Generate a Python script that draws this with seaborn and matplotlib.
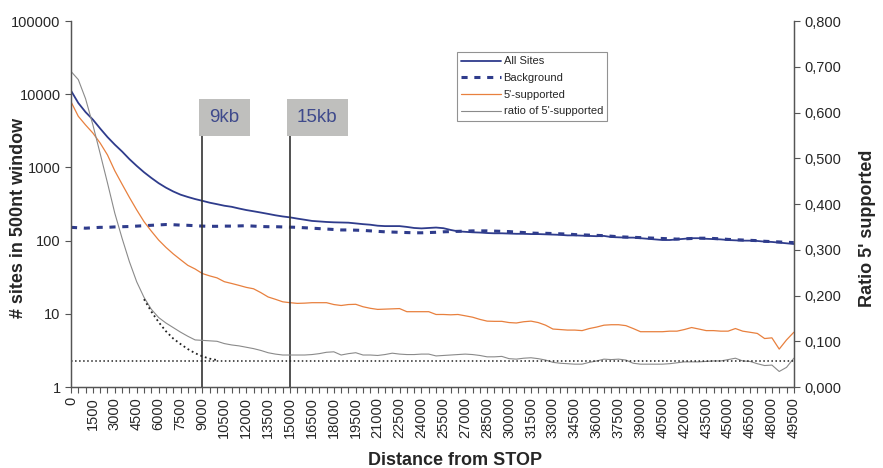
import numpy as np
import pandas as pd
import seaborn as sns
import matplotlib.pyplot as plt
from matplotlib.ticker import FuncFormatter, NullLocator

# distance from STOP, one window every 500 nt
distance = np.arange(0, 50000, 500)

all_sites = [
    11200, 7600, 5700, 4500, 3400, 2600, 2050, 1650, 1300, 1050,
    860, 720, 610, 530, 470, 425, 395, 370, 350, 330,
    315, 300, 290, 275, 262, 252, 242, 232, 222, 214,
    208, 200, 193, 186, 183, 180, 178, 177, 176, 172,
    168, 165, 160, 158, 158, 158, 154, 149, 147, 149,
    151, 148, 140, 134, 132, 130, 129, 127, 126, 126,
    125, 124, 124, 123, 123, 122, 121, 120, 118, 118,
    117, 116, 115, 116, 112, 111, 110, 110, 108, 106,
    104, 102, 102, 104, 106, 108, 108, 106, 105, 104,
    102, 101, 100, 100, 99, 97, 96, 94, 92, 90,
]

background = [
    152, 150, 148, 150, 152, 152, 154, 155, 156, 158,
    160, 162, 164, 166, 165, 163, 162, 160, 158, 157,
    157, 158, 158, 159, 160, 158, 156, 155, 155, 154,
    153, 152, 150, 148, 146, 144, 142, 140, 140, 139,
    138, 136, 134, 132, 131, 130, 129, 128, 128, 129,
    130, 132, 133, 134, 135, 136, 136, 136, 135, 134,
    133, 131, 129, 127, 126, 126, 125, 124, 123, 121,
    120, 119, 118, 117, 115, 113, 112, 111, 110, 109,
    108, 107, 106, 105, 106, 107, 108, 108, 107, 106,
    104, 103, 102, 101, 100, 98, 97, 96, 95, 94,
]

five_prime = [
    7900, 5000, 3800, 2950, 2150, 1480, 900, 590, 390, 263,
    182, 135, 102, 81, 66, 55, 46, 41, 35.5, 33,
    31, 27.5, 26, 24.5, 23, 22, 19.5, 17, 15.8, 14.6,
    14.2, 13.9, 14.0, 14.2, 14.2, 14.2, 13.4, 13.0, 13.4, 13.5,
    12.5, 11.9, 11.5, 11.6, 11.7, 11.8, 10.7, 10.7, 10.7, 10.7,
    9.8, 9.8, 9.7, 9.8, 9.4, 9.0, 8.4, 7.95, 7.9, 7.9,
    7.6, 7.5, 7.8, 7.95, 7.6, 7.0, 6.2, 6.1, 6.0, 6.0,
    5.9, 6.3, 6.6, 7.0, 7.1, 7.1, 6.9, 6.3, 5.7, 5.7,
    5.7, 5.7, 5.8, 5.8, 6.1, 6.5, 6.2, 5.9, 5.9, 5.8,
    5.8, 6.3, 5.8, 5.6, 5.4, 4.6, 4.7, 3.3, 4.4, 5.6,
]

ratio = [
    0.690, 0.672, 0.630, 0.573, 0.510, 0.446, 0.380, 0.325, 0.274, 0.230,
    0.196, 0.170, 0.152, 0.140, 0.130, 0.120, 0.111, 0.103, 0.102, 0.101,
    0.100, 0.095, 0.092, 0.090, 0.087, 0.084, 0.080, 0.075, 0.072, 0.070,
    0.070, 0.070, 0.070, 0.071, 0.073, 0.076, 0.077, 0.070, 0.073, 0.075,
    0.070, 0.070, 0.069, 0.071, 0.074, 0.072, 0.071, 0.071, 0.072, 0.072,
    0.068, 0.069, 0.070, 0.071, 0.072, 0.071, 0.069, 0.066, 0.066, 0.067,
    0.062, 0.061, 0.063, 0.064, 0.062, 0.059, 0.054, 0.052, 0.051, 0.050,
    0.050, 0.054, 0.057, 0.061, 0.060, 0.061, 0.059, 0.052, 0.050, 0.050,
    0.050, 0.050, 0.051, 0.053, 0.055, 0.055, 0.055, 0.056, 0.057, 0.057,
    0.060, 0.063, 0.057, 0.056, 0.051, 0.047, 0.048, 0.034, 0.043, 0.063,
]

# fitted decay of the ratio and its plateau
fit_distance = [5000, 5500, 6000, 6500, 7000, 7500, 8000, 8500, 9000, 9500, 10000]
fit_ratio = [0.192, 0.165, 0.142, 0.122, 0.106, 0.094, 0.083, 0.074, 0.067, 0.062, 0.059]
plateau = 0.0575

markers_kb = [9000, 15000]
marker_labels = ["9kb", "15kb"]

x_labels = list(range(0, 49501, 1500))
ratio_ticks = [0.0, 0.1, 0.2, 0.3, 0.4, 0.5, 0.6, 0.7, 0.8]

sns.set_style("ticks")
plt.rcParams["font.family"] = ["Liberation Sans", "DejaVu Sans"]

fig = plt.figure(figsize=(8.83, 4.68), dpi=100)
ax = fig.add_axes([0.0804, 0.173, 0.8186, 0.782])
ax2 = ax.twinx()

blue = "#2f3c8c"
orange = "#e8803e"
gray = "#8a8a8a"

sns.lineplot(x=distance, y=all_sites, ax=ax, color=blue, lw=1.3,
             label="All Sites", legend=False)
sns.lineplot(x=distance, y=background, ax=ax, color=blue, lw=2.2,
             label="Background", legend=False)
ax.lines[-1].set_dashes((2.0, 2.2))
sns.lineplot(x=distance, y=five_prime, ax=ax, color=orange, lw=0.9,
             label="5'-supported", legend=False)

sns.lineplot(x=distance, y=ratio, ax=ax2, color=gray, lw=0.8,
             label="ratio of 5'-supported", legend=False)
sns.lineplot(x=fit_distance, y=fit_ratio, ax=ax2, color="#222222", lw=1.3,
             legend=False)
ax2.lines[-1].set_linestyle(":")
ax2.axhline(plateau, color="#222222", lw=1.1, ls=":")

ax.set_yscale("log")
ax.set_ylim(1, 100000)
ax.set_xlim(0, 49500)
ax2.set_ylim(0, 0.8)

# 9kb / 15kb markers
for pos, lab in zip(markers_kb, marker_labels):
    ax.vlines(pos, 1, 2750, color="#333333", lw=1.2, zorder=5)
    ax.text(pos + 480, 4800, lab, ha="left", va="center", fontsize=13.5,
            color="#3f4a8c",
            bbox=dict(boxstyle="square,pad=0.55", fc="#bfbfbd", ec="none"),
            zorder=6)

ax.set_yticks([1, 10, 100, 1000, 10000, 100000])
ax.set_yticklabels(["1", "10", "100", "1000", "10000", "100000"])
ax.yaxis.set_minor_locator(NullLocator())
ax.set_xticks(x_labels)
ax.set_xticklabels([str(v) for v in x_labels], rotation=90)
ax.set_xticks(distance, minor=True)
ax.tick_params(axis="x", which="both", length=4, width=0.8, color="#555555",
               labelsize=10.5, pad=3)
ax.tick_params(axis="y", which="both", length=4, width=0.8, color="#555555",
               labelsize=10.5)

ax2.set_yticks(ratio_ticks)
ax2.yaxis.set_major_formatter(FuncFormatter(lambda v, p: f"{v:.3f}".replace(".", ",")))
ax2.tick_params(axis="y", length=4, width=0.8, color="#555555", labelsize=10.5)

for a in (ax, ax2):
    a.spines["top"].set_visible(False)
    for s in ("left", "right", "bottom"):
        a.spines[s].set_color("#555555")
        a.spines[s].set_linewidth(0.9)

ax.set_xlabel("Distance from STOP", fontsize=13, fontweight="bold")
ax.set_ylabel("# sites in 500nt window", fontsize=13, fontweight="bold")
ax2.set_ylabel("Ratio 5' supported", fontsize=13, fontweight="bold")
ax.xaxis.set_label_coords(0.532, -0.178)
ax.yaxis.set_label_coords(-0.061, 0.462)
ax2.yaxis.set_label_coords(1.090, 0.434)

h1, l1 = ax.get_legend_handles_labels()
h2, l2 = ax2.get_legend_handles_labels()
leg = ax2.legend(h1 + h2, l1 + l2, loc="upper left",
                 bbox_to_anchor=(0.5175, 0.889), bbox_transform=fig.transFigure,
                 fontsize=8, frameon=True, fancybox=False, handlelength=3.6,
                 handletextpad=0.2, labelspacing=0.6, borderpad=0.4,
                 borderaxespad=0)
leg.get_frame().set_edgecolor("#777777")
leg.get_frame().set_linewidth(0.8)

fig.savefig("out.png", dpi=100)
